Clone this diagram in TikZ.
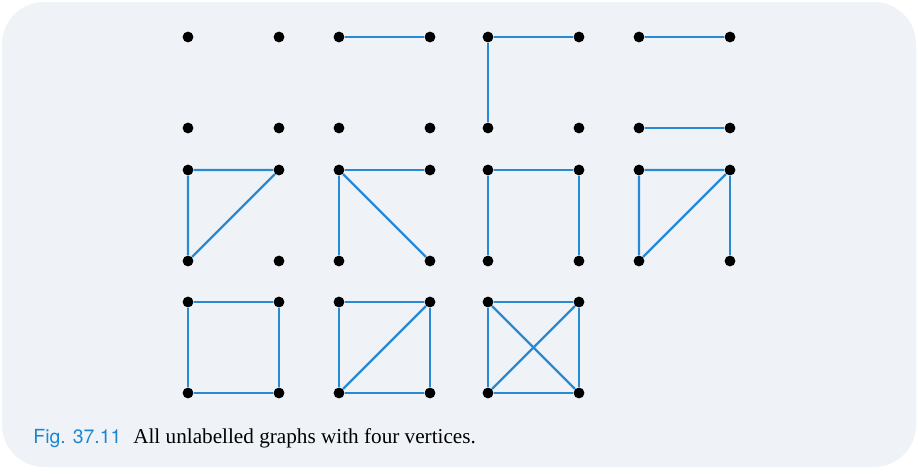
\documentclass[tikz,border=0pt]{standalone}
\usepackage{fontspec}
\setmainfont{Liberation Serif}
\newfontfamily\figfont{TeX Gyre Heros}
\usepackage{tikz}
\usetikzlibrary{positioning}

\definecolor{panelgrey}{RGB}{239,243,247}
\definecolor{edgeblue}{RGB}{40,137,212}
\definecolor{capblue}{RGB}{28,135,208}

\begin{document}
\begin{tikzpicture}[
    x=0.5pt, y=-0.5pt,
    vtx/.style={circle, fill=black, inner sep=0pt, minimum size=5.4pt},
    edge/.style={edgeblue, line width=1.2pt}
]

\useasboundingbox (0,0) rectangle (918,473);
\fill[panelgrey, rounded corners=21pt] (2,2) rectangle (916,467);

% four vertices for each graph: a top left, b top right, c bottom left, d bottom right
\foreach \g/\x/\y in {1/188/37, 2/339/37, 3/488/37, 4/639/37,
                      5/188/170, 6/339/170, 7/488/170, 8/639/170,
                      9/188/302, 10/339/302, 11/488/302} {
    \node[vtx] (g\g-a) at (\x,\y) {};
    \node[vtx] (g\g-b) at (\x+91,\y) {};
    \node[vtx] (g\g-c) at (\x,\y+91) {};
    \node[vtx] (g\g-d) at (\x+91,\y+91) {};
}

% first row
\draw[edge] (g2-a) -- (g2-b);
\draw[edge] (g3-c) -- (g3-a) -- (g3-b);
\draw[edge] (g4-a) -- (g4-b);
\draw[edge] (g4-c) -- (g4-d);

% second row
\draw[edge] (g5-a) -- (g5-b) -- (g5-c) -- (g5-a);
\draw[edge] (g6-a) -- (g6-b);
\draw[edge] (g6-a) -- (g6-c);
\draw[edge] (g6-a) -- (g6-d);
\draw[edge] (g7-c) -- (g7-a) -- (g7-b) -- (g7-d);
\draw[edge] (g8-a) -- (g8-b) -- (g8-c) -- (g8-a);
\draw[edge] (g8-b) -- (g8-d);

% third row
\draw[edge] (g9-a) -- (g9-b) -- (g9-d) -- (g9-c) -- (g9-a);
\draw[edge] (g10-a) -- (g10-b) -- (g10-d) -- (g10-c) -- (g10-a);
\draw[edge] (g10-b) -- (g10-c);
\draw[edge] (g11-a) -- (g11-b) -- (g11-d) -- (g11-c) -- (g11-a);
\draw[edge] (g11-a) -- (g11-d);
\draw[edge] (g11-b) -- (g11-c);

% caption
\node[anchor=base west, inner sep=0pt, font=\figfont\fontsize{9.7}{11}\selectfont, text=capblue]
    (figno) at (33,443) {Fig. 37.11};
\node[base right=5.5pt of figno, inner sep=0pt, font=\fontsize{10.6}{12}\selectfont]
    (figtext) {All unlabelled graphs with four vertices.};

\end{tikzpicture}
\end{document}
